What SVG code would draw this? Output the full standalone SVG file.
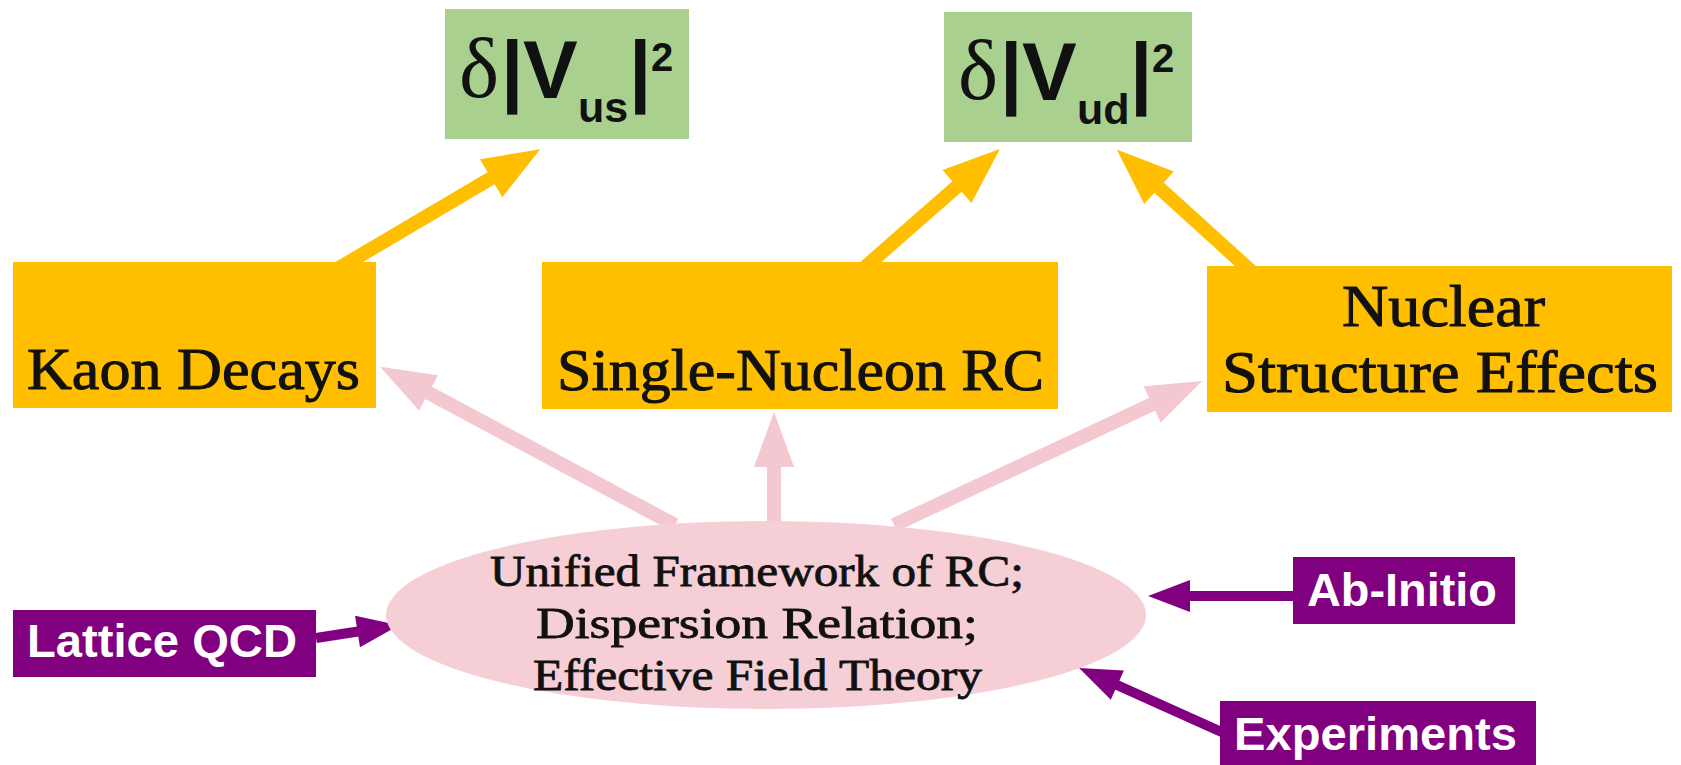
<svg xmlns="http://www.w3.org/2000/svg" width="1681" height="765" viewBox="0 0 1681 765">
<style>
.green{fill:#A9D08E}
.orange{fill:#FFBF00}
.purple{fill:#800080}
.ell{fill:#F6CFD6}
.math{font-family:"Liberation Sans",Arial,sans-serif;fill:#111}
.dl{font-family:"Liberation Serif",serif;font-size:85px}
.bar{font-size:80px;font-weight:bold}
.V{font-size:82px;font-weight:bold}
.sub{font-size:43px;font-weight:bold}
.sup{font-size:40px;font-weight:bold}
.lab{font-family:"Liberation Serif","DejaVu Serif",serif;font-size:60px;fill:#111;stroke:#111;stroke-width:1}
.elab{font-family:"Liberation Serif","DejaVu Serif",serif;font-size:44px;fill:#111;stroke:#111;stroke-width:0.8}
.plab{font-family:"Liberation Sans",Arial,sans-serif;font-size:46px;font-weight:bold;fill:#fff}
.oa{stroke:#FFBF00;stroke-width:14;fill:none;marker-end:url(#hO)}
.pa{stroke:#F4C8D0;stroke-width:14;fill:none;marker-end:url(#hP)}
.ua{stroke:#800080;stroke-width:10;fill:none;marker-end:url(#hU)}
</style>
<defs>
<marker id="hO" markerUnits="userSpaceOnUse" markerWidth="58" markerHeight="46" refX="25" refY="22" orient="auto" overflow="visible"><path d="M0,0 L57,22 L0,44 z" fill="#FFBF00"/></marker>
<marker id="hP" markerUnits="userSpaceOnUse" markerWidth="56" markerHeight="42" refX="25" refY="20" orient="auto" overflow="visible"><path d="M0,0 L55,20 L0,40 z" fill="#F4C8D0"/></marker>
<marker id="hU" markerUnits="userSpaceOnUse" markerWidth="44" markerHeight="34" refX="20" refY="16" orient="auto" overflow="visible"><path d="M0,0 L42,16 L0,32 z" fill="#800080"/></marker>
</defs>
<rect width="1681" height="765" fill="#fff"/>
<g id="connectors">
<line class="oa" x1="339" y1="268" x2="512.7" y2="165.5"/>
<line class="oa" x1="864" y1="268" x2="975.8" y2="170.1"/>
<line class="oa" x1="1252" y1="272" x2="1140.5" y2="170.9"/>
<line class="pa" x1="675" y1="525" x2="406.5" y2="381"/>
<line class="pa" x1="774" y1="530" x2="774" y2="442"/>
<line class="pa" x1="894" y1="525" x2="1174.8" y2="393.7"/>
<line class="ua" x1="316" y1="638" x2="377.3" y2="628.5"/>
<line class="ua" x1="1295" y1="596" x2="1170" y2="596"/>
<line class="ua" x1="1226" y1="734" x2="1099.1" y2="677"/>
</g>
<g id="vus">
<rect class="green" x="445" y="9" width="244" height="130"/>
<text class="math"><tspan class="dl" x="459" y="97">δ</tspan><tspan class="bar" x="501" y="97">|</tspan><tspan class="V" x="523" y="98">V</tspan><tspan class="sub" x="578" y="122">us</tspan><tspan class="bar" x="629" y="97">|</tspan><tspan class="sup" x="651" y="71">2</tspan></text>
</g>
<g id="vud">
<rect class="green" x="944" y="12" width="248" height="130"/>
<text class="math"><tspan class="dl" x="958" y="99">δ</tspan><tspan class="bar" x="1000" y="99">|</tspan><tspan class="V" x="1022" y="100">V</tspan><tspan class="sub" x="1077" y="124">ud</tspan><tspan class="bar" x="1130" y="99">|</tspan><tspan class="sup" x="1152" y="72">2</tspan></text>
</g>
<g id="kaon">
<rect class="orange" x="13" y="262" width="363" height="146"/>
<text class="lab" x="27" y="389" textLength="333" lengthAdjust="spacingAndGlyphs">Kaon Decays</text>
</g>
<g id="single">
<rect class="orange" x="542" y="262" width="516" height="147"/>
<text class="lab" x="557" y="390" textLength="487" lengthAdjust="spacingAndGlyphs">Single-Nucleon RC</text>
</g>
<g id="nuclear">
<rect class="orange" x="1207" y="266" width="465" height="146"/>
<text class="lab" x="1342" y="326" textLength="203" lengthAdjust="spacingAndGlyphs">Nuclear</text>
<text class="lab" x="1222" y="392" textLength="436" lengthAdjust="spacingAndGlyphs">Structure Effects</text>
</g>
<g id="framework">
<ellipse class="ell" cx="766" cy="615" rx="380" ry="94"/>
<text class="elab" x="490" y="586" textLength="534" lengthAdjust="spacingAndGlyphs">Unified Framework of RC;</text>
<text class="elab" x="536" y="638" textLength="442" lengthAdjust="spacingAndGlyphs">Dispersion Relation;</text>
<text class="elab" x="533" y="690" textLength="449" lengthAdjust="spacingAndGlyphs">Effective Field Theory</text>
</g>
<g id="lattice">
<rect class="purple" x="13" y="610" width="303" height="67"/>
<text class="plab" x="27" y="657" textLength="270" lengthAdjust="spacingAndGlyphs">Lattice QCD</text>
</g>
<g id="abinitio">
<rect class="purple" x="1293" y="557" width="222" height="67"/>
<text class="plab" x="1307" y="606" textLength="190" lengthAdjust="spacingAndGlyphs">Ab-Initio</text>
</g>
<g id="experiments">
<rect class="purple" x="1220" y="701" width="316" height="64"/>
<text class="plab" x="1234" y="750" textLength="283" lengthAdjust="spacingAndGlyphs">Experiments</text>
</g>
</svg>
